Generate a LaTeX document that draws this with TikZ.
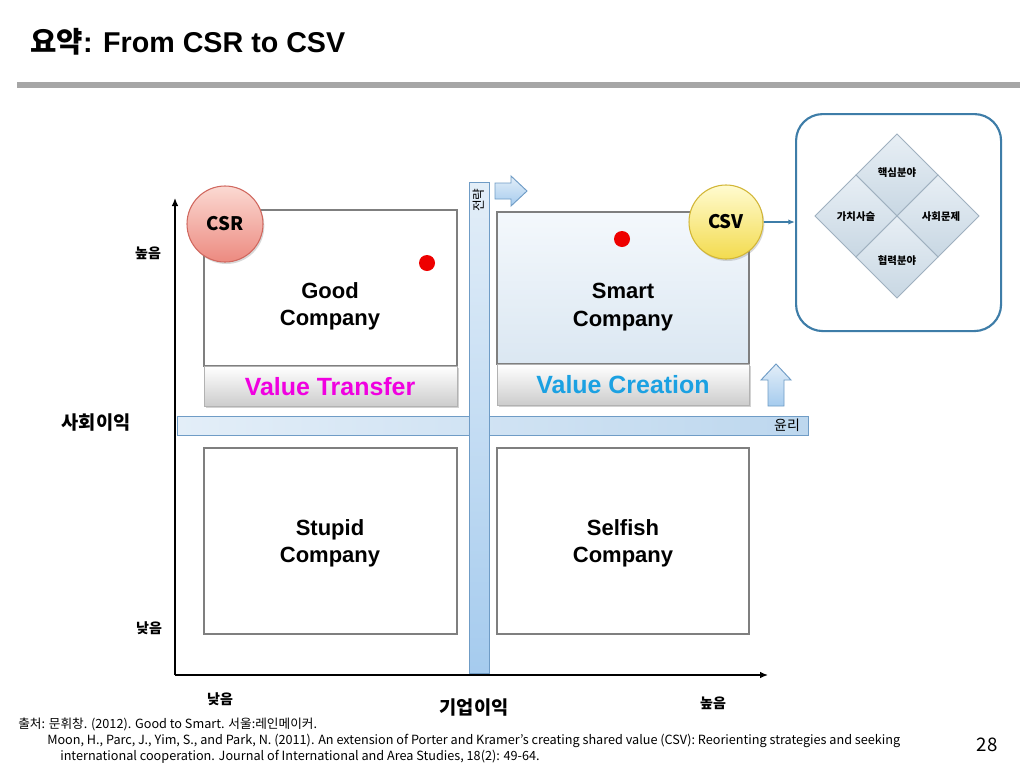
\documentclass[tikz,border=0pt]{standalone}
\usepackage{fontspec}
\setmainfont{Liberation Sans}
\newfontfamily\kr{Noto Sans CJK KR}
\usetikzlibrary{arrows.meta,shadows}
\definecolor{bargray}{HTML}{A6A6A6}
\definecolor{boxline}{HTML}{7F7F7F}
\definecolor{blueline}{HTML}{6F9CC6}
\definecolor{bluefill}{HTML}{BDD7EE}
\definecolor{bluelight}{HTML}{E3EEF8}
\definecolor{bluedeep}{HTML}{A5CBEE}
\definecolor{panelline}{HTML}{3E7DA8}
\definecolor{tileline}{HTML}{9FB0BF}
\definecolor{tiletop}{HTML}{E8EFF5}
\definecolor{tilebot}{HTML}{C8D7E3}
\definecolor{magentatxt}{HTML}{F000E0}
\definecolor{cyantxt}{HTML}{1BA1E2}
\definecolor{csrtop}{HTML}{FBD9D2}
\definecolor{csrbot}{HTML}{EC8A80}
\definecolor{csrline}{HTML}{D0685F}
\definecolor{csvtop}{HTML}{FFFBD0}
\definecolor{csvbot}{HTML}{F3DB4E}
\definecolor{csvline}{HTML}{D2B636}
\definecolor{reddot}{HTML}{EE0000}
\tikzset{
  quad/.style={draw=boxline, line width=0.8pt, fill=white},
  vbar/.style={draw=boxline!60, line width=0.6pt, top color=white, bottom color=black!20,
               drop shadow={opacity=0.35, shadow xshift=1pt, shadow yshift=-1.2pt}},
  comp/.style={align=center, font=\bfseries\fontsize{16.5}{20.5}\selectfont, inner sep=0pt},
  vtxt/.style={font=\bfseries\fontsize{18.7}{22}\selectfont, inner sep=0pt},
  krlab/.style={font=\kr\bfseries\fontsize{10.5}{12}\selectfont, inner sep=0pt},
  krbig/.style={font=\kr\bfseries\fontsize{14}{16}\selectfont, inner sep=0pt},
  tile/.style={draw=tileline, line width=0.6pt, top color=tiletop, bottom color=tilebot},
  tiletxt/.style={font=\kr\bfseries\fontsize{7.8}{9}\selectfont, inner sep=0pt},
  bluebar/.style={draw=blueline, line width=0.7pt},
  blockarrow/.style={draw=blueline, line width=0.7pt, top color=bluelight, bottom color=bluedeep},
  axis/.style={line width=1pt, -{Latex[length=6pt,width=5pt]}},
  dot/.style={circle, fill=reddot, minimum size=12pt, inner sep=0pt},
  foot/.style={font=\kr\fontsize{9.5}{11}\selectfont, inner sep=0pt, anchor=west}
}
\begin{document}
\begin{tikzpicture}[x=0.75pt,y=-0.75pt]
\useasboundingbox (0,0) rectangle (1024,768);
\fill[white] (0,0) rectangle (1024,768);

% title
\node[anchor=west, inner sep=0pt] (title) at (30,42)
  {\fontsize{21.5}{25}\selectfont\bfseries{\kr 요약}: From CSR to CSV};
\fill[bargray] (17,82) rectangle (1020,88);

% quadrant boxes
\draw[quad] (204,210) rectangle (457,366);
\node[vbar, minimum width=253*0.75pt, minimum height=40*0.75pt, anchor=north west] (vt) at (204,366) {};
\node[vtxt, text=magentatxt] (vttxt) at (330,386.5) {Value Transfer};

\draw[draw=boxline, line width=0.8pt, top color=white!60!bluelight, bottom color=bluelight!70!tilebot,
      drop shadow={opacity=0.25, shadow xshift=1pt, shadow yshift=-1pt}] (497,212) rectangle (749,364);
\node[vbar, minimum width=252*0.75pt, minimum height=41*0.75pt, anchor=north west] (vc) at (497,364) {};
\node[vtxt, text=cyantxt] (vctxt) at (623,385) {Value Creation};

\draw[quad] (204,448) rectangle (457,634);
\draw[quad] (497,448) rectangle (749,634);

\node[comp] (good) at (330,306) {Good\\Company};
\node[comp] (smart) at (623,307) {Smart\\Company};
\node[comp] (stupid) at (330,543) {Stupid\\Company};
\node[comp] (selfish) at (623,543) {Selfish\\Company};

% axes
\coordinate (origin) at (175,675);
\coordinate (ytop) at (175,198);
\coordinate (xend) at (768,675);
\draw[axis] (origin) -- (ytop);
\draw[axis] (origin) -- (xend);

% horizontal ethics bar
\shade[left color=bluelight, right color=bluefill] (177,416) rectangle (808,435);
\draw[bluebar] (177,416) rectangle (808,435);
\node[font=\kr\fontsize{10.5}{12}\selectfont, inner sep=0pt] (ethics) at (787,425.5) {윤리};

% vertical strategy bar
\shade[top color=bluelight, bottom color=bluedeep] (469,182) rectangle (489,673);
\draw[bluebar] (469,182) rectangle (489,673);
\node[font=\kr\fontsize{9.5}{11}\selectfont, inner sep=0pt, rotate=90] (strategy) at (479,200) {전략};

% block arrows
\draw[blockarrow] (495,183) -- (511,183) -- (511,176) -- (527,191) -- (511,206) -- (511,199) -- (495,199) -- cycle;
\draw[blockarrow] (768,406) -- (768,380) -- (761,380) -- (776,364) -- (791,380) -- (784,380) -- (784,406) -- cycle;

% red dots
\node[dot] (dot1) at (427,263) {};
\node[dot] (dot2) at (622,239) {};

% CSR / CSV circles
\node[circle, minimum size=76*0.75pt, draw=csrline, line width=0.8pt, top color=csrtop, bottom color=csrbot,
      drop shadow={opacity=0.3, shadow xshift=1pt, shadow yshift=-1.5pt},
      font=\kr\bfseries\fontsize{14}{15}\selectfont] (csr) at (225,224) {CSR};
\node[circle, minimum size=74*0.75pt, draw=csvline, line width=0.8pt, top color=csvtop, bottom color=csvbot,
      drop shadow={opacity=0.3, shadow xshift=1pt, shadow yshift=-1.5pt},
      font=\kr\bfseries\fontsize{14}{15}\selectfont] (csv) at (726,222) {CSV};

% right panel
\node[draw=panelline, line width=1.6pt, rounded corners=20pt, minimum width=205*0.75pt,
      minimum height=217*0.75pt, anchor=north west] (panel) at (795,113) {};
\draw[panelline, line width=1pt, -{Latex[length=5pt,width=4pt]}] (csv.east) -- (csv.east -| panel.west);

\foreach \cx/\cy in {897/175, 856/216, 938/216, 897/257}{
  \draw[tile] (\cx,\cy-41) -- (\cx+41,\cy) -- (\cx,\cy+41) -- (\cx-41,\cy) -- cycle;
}
\node[tiletxt] (t1) at (897,173) {핵심분야};
\node[tiletxt] (t2) at (856,217) {가치사슬};
\node[tiletxt] (t3) at (941,217) {사회문제};
\node[tiletxt] (t4) at (897,261) {협력분야};

% axis labels
\node[krlab] (yhigh) at (148,253) {높음};
\node[krbig] (yaxis) at (96,423) {사회이익};
\node[krlab] (ylow) at (149,628) {낮음};
\node[krlab] (xlow) at (220,699) {낮음};
\node[krbig] (xaxis) at (474,708) {기업이익};
\node[krlab] (xhigh) at (713,703) {높음};

% footer
\node[foot] (src1) at (18,724) {출처: 문휘창. (2012). Good to Smart. 서울:레인메이커.};
\node[foot] (src2) at (47,741) {Moon, H., Parc, J., Yim, S., and Park, N. (2011). An extension of Porter and Kramer’s creating shared value (CSV): Reorienting strategies and seeking};
\node[foot] (src3) at (60,757) {international cooperation. Journal of International and Area Studies, 18(2): 49-64.};
\node[font=\kr\fontsize{14}{16}\selectfont, inner sep=0pt] (page) at (987,745) {28};
\end{tikzpicture}
\end{document}
